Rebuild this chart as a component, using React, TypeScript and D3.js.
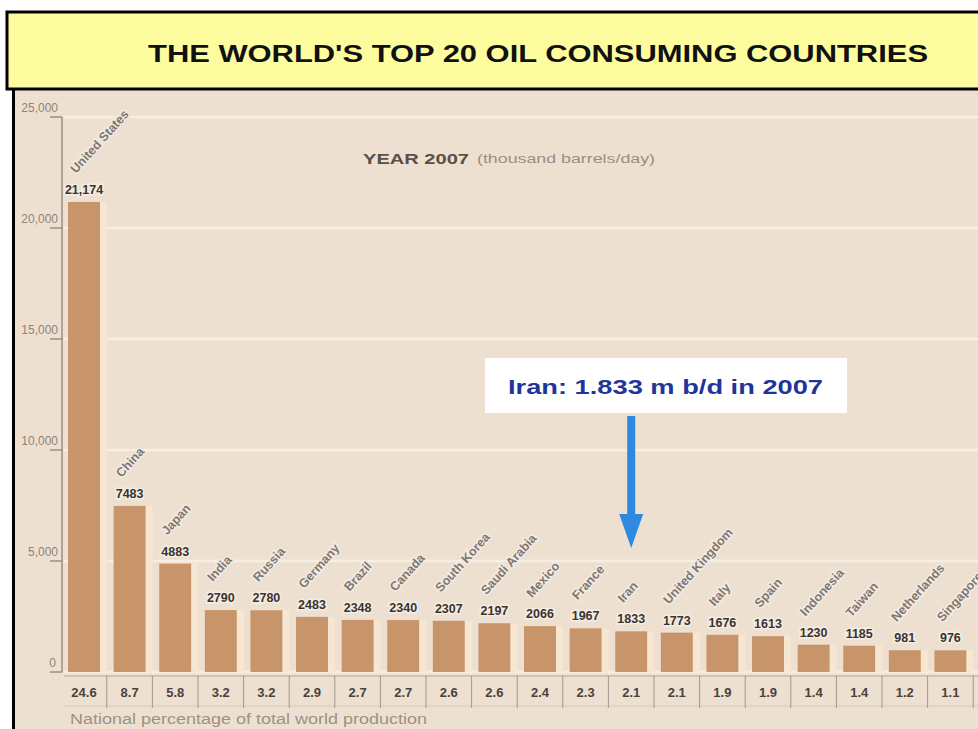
import React from "react";
import * as d3 from "d3";

const countries = ["United States","China","Japan","India","Russia","Germany","Brazil","Canada","South Korea","Saudi Arabia","Mexico","France","Iran","United Kingdom","Italy","Spain","Indonesia","Taiwan","Netherlands","Singapore"];
const consumption = [21174,7483,4883,2790,2780,2483,2348,2340,2307,2197,2066,1967,1833,1773,1676,1613,1230,1185,981,976];
const valueLabels = ["21,174","7483","4883","2790","2780","2483","2348","2340","2307","2197","2066","1967","1833","1773","1676","1613","1230","1185","981","976"];
const shares = ["24.6","8.7","5.8","3.2","3.2","2.9","2.7","2.7","2.6","2.6","2.4","2.3","2.1","2.1","1.9","1.9","1.4","1.4","1.2","1.1"];
const yTicks = [0,5000,10000,15000,20000,25000];

const W = 978, H = 729;

export default function App() {
  const x = d3.scaleBand<string>().domain(countries).range([61.2, 973.2]).paddingInner(0.3).paddingOuter(0.15);
  const y = d3.scaleLinear().domain([0, 25000]).range([672, 117]);
  const fmt = d3.format(",");
  const bw = x.bandwidth();
  const step = x.step();
  const font = "'Liberation Sans', Arial, sans-serif";
  const iranX = (x("Iran") as number) + bw / 2;

  return (
    <svg width={W} height={H} style={{ position: "absolute", left: 0, top: 0 }} fontFamily={font}>
      <rect x={0} y={0} width={W} height={H} fill="#ffffff" />
      {/* chart panel */}
      <rect x={13} y={89} width={W - 13} height={H - 89} fill="#eee0d1" />
      {yTicks.map((t) => (
        <line key={"g" + t} x1={64} x2={W} y1={y(t)} y2={y(t)} stroke="#f6ede3" strokeWidth={2.5} />
      ))}
      <line x1={13.5} x2={13.5} y1={89} y2={H} stroke="#000" strokeWidth={3} />
      {/* title band */}
      <rect x={7} y={12} width={W + 20} height={77} fill="#fdfc9e" stroke="#000" strokeWidth={3} />
      <text x={538} y={62} textAnchor="middle" fontSize={24} fontWeight="bold" fill="#111" textLength={780} lengthAdjust="spacingAndGlyphs">THE WORLD'S TOP 20 OIL CONSUMING COUNTRIES</text>

      {/* y axis */}
      <line x1={62} x2={62} y1={y(25000)} y2={y(0)} stroke="#9c8f84" strokeWidth={1.5} />
      {yTicks.map((t) => (
        <g key={"t" + t}>
          <line x1={50} x2={62} y1={y(t)} y2={y(t)} stroke="#9c8f84" strokeWidth={1.5} />
          <text x={t === 0 ? 56 : 58} y={y(t) - 5} textAnchor="end" fontSize={12} fill="#8f8478">{fmt(t)}</text>
        </g>
      ))}

      {/* subtitle */}
      <text x={363} y={164} fontSize={15} fontWeight="bold" fill="#5a5048" textLength={106} lengthAdjust="spacingAndGlyphs">YEAR 2007</text>
      <text x={477} y={163} fontSize={12} fill="#9a8e82" textLength={178} lengthAdjust="spacingAndGlyphs">(thousand barrels/day)</text>

      {/* bars */}
      {countries.map((c, i) => {
        const bx = x(c) as number;
        const top = y(consumption[i]);
        return (
          <g key={c}>
            <rect x={bx + bw} y={top} width={7} height={y(0) - top} fill="#f7e6d2" />
            <rect x={bx} y={top} width={bw} height={y(0) - top} fill="#c8956b" />
            <text x={bx + bw / 2} y={top - 8} textAnchor="middle" fontSize={12.5} fontWeight="bold" fill="#3a332e" stroke="#f5ede3" strokeWidth={3} paintOrder="stroke">{valueLabels[i]}</text>
            <text transform={`translate(${bx + bw / 2 - 8},${top - 28}) rotate(-48)`} fontSize={12.5} fontWeight="bold" fill="#7f7770" stroke="#f3ebe1" strokeWidth={3} paintOrder="stroke">{c}</text>
          </g>
        );
      })}

      {/* share row */}
      <line x1={64} x2={W} y1={676} y2={676} stroke="#b3a69a" strokeWidth={1} />
      <line x1={64} x2={W} y1={706} y2={706} stroke="#d5c8ba" strokeWidth={1} />
      {countries.map((c, i) => {
        const bx = x(c) as number;
        const sep = bx + bw + (step - bw) / 2;
        return (
          <g key={"s" + c}>
            <line x1={sep} x2={sep} y1={676} y2={708} stroke="#a2958a" strokeWidth={1} />
            <text x={bx + bw / 2} y={697} textAnchor="middle" fontSize={13} fontWeight="bold" fill="#4a423c">{shares[i]}</text>
          </g>
        );
      })}
      <text x={70} y={724} fontSize={14} fill="#9d9185" textLength={357} lengthAdjust="spacingAndGlyphs">National percentage of total world production</text>

      {/* annotation */}
      <rect x={485} y={358} width={362} height={55} fill="#ffffff" />
      <text x={508} y={394} fontSize={20} fontWeight="bold" fill="#1f359a" textLength={315} lengthAdjust="spacingAndGlyphs">Iran: 1.833 m b/d in 2007</text>
      <rect x={iranX - 4} y={416} width={8} height={100} fill="#2e8ae0" />
      <path d={`M${iranX - 12},514 L${iranX + 12},514 L${iranX},548 Z`} fill="#2e8ae0" />
    </svg>
  );
}
